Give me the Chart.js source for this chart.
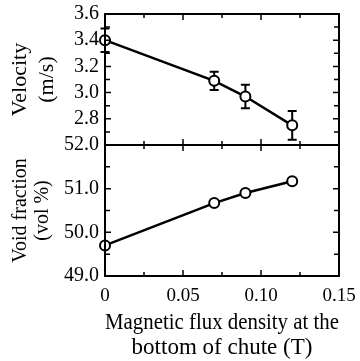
<!DOCTYPE html>
<html>
<head>
<meta charset="utf-8">
<script src="https://cdn.jsdelivr.net/npm/chart.js@4"></script>
<style>
  html, body { margin: 0; padding: 0; background: #fff; }
  #wrap { width: 360px; height: 361px; }
</style>
</head>
<body>
<div id="wrap"><canvas id="chart"></canvas></div>
<script>
// dados
const fluxT = [0, 0.07, 0.09, 0.12];
const velocity = [3.40, 3.09, 2.97, 2.75];
const velocityErr = [0.09, 0.07, 0.09, 0.11];
const voidFraction = [49.7, 50.67, 50.9, 51.17];

const xTicks = [0, 0.05, 0.10, 0.15];
const velTicks = [2.8, 3.0, 3.2, 3.4, 3.6];
const voidTicks = [49.0, 50.0, 51.0, 52.0];

const serif = "'Liberation Serif', 'DejaVu Serif', serif";

function near(v, list) {
  return list.some(t => Math.abs(t - v) < 1e-6);
}

// barras de erro (desenhadas antes dos pontos)
const errorBars = {
  id: 'errorBars',
  beforeDatasetsDraw(chart) {
    const ctx = chart.ctx;
    const x = chart.scales.x, y = chart.scales.yV;
    ctx.save();
    ctx.strokeStyle = '#000';
    ctx.lineWidth = 2;
    fluxT.forEach((f, i) => {
      const px = x.getPixelForValue(f);
      const top = y.getPixelForValue(velocity[i] + velocityErr[i]);
      const bot = y.getPixelForValue(velocity[i] - velocityErr[i]);
      ctx.beginPath();
      ctx.moveTo(px, top); ctx.lineTo(px, bot);
      ctx.moveTo(px - 4.5, top); ctx.lineTo(px + 4.5, top);
      ctx.moveTo(px - 4.5, bot); ctx.lineTo(px + 4.5, bot);
      ctx.stroke();
    });
    ctx.restore();
  }
};

// moldura + ticks para dentro
const frame = {
  id: 'frame',
  afterDraw(chart) {
    const ctx = chart.ctx;
    const a = chart.chartArea;
    const x = chart.scales.x, yV = chart.scales.yV, yF = chart.scales.yF;
    const mid = yV.bottom;
    ctx.save();
    ctx.strokeStyle = '#000';
    ctx.lineWidth = 2;
    ctx.strokeRect(a.left, a.top, a.right - a.left, a.bottom - a.top);
    ctx.beginPath();
    ctx.moveTo(a.left, mid); ctx.lineTo(a.right, mid);
    ctx.stroke();

    ctx.lineWidth = 1.5;
    ctx.beginPath();
    [yV, yF].forEach(s => {
      const major = s.id === 'yV' ? velTicks : voidTicks;
      s.ticks.forEach(t => {
        const py = s.getPixelForValue(t.value);
        const len = near(t.value, major) ? 6 : 5;
        ctx.moveTo(a.left, py); ctx.lineTo(a.left + len, py);
        ctx.moveTo(a.right, py); ctx.lineTo(a.right - len, py);
      });
    });
    x.ticks.forEach(t => {
      const px = x.getPixelForValue(t.value);
      const len = near(t.value, xTicks) ? 6 : 4;
      ctx.moveTo(px, a.top); ctx.lineTo(px, a.top + len);
      ctx.moveTo(px, mid - len); ctx.lineTo(px, mid + len);
      ctx.moveTo(px, a.bottom); ctx.lineTo(px, a.bottom - len);
    });
    ctx.stroke();
    ctx.restore();
  }
};

const lineStyle = {
  borderColor: '#000',
  borderWidth: 2.5,
  pointRadius: 5,
  pointBorderWidth: 2,
  pointBackgroundColor: '#fff',
  pointBorderColor: '#000',
  tension: 0,
  clip: false
};

// largura/altura fixa dos eixos, sem o padding automático dos rótulos
function fixY(s) {
  s.width = 105;
  s.paddingTop = 0; s.paddingBottom = 0;
}

new Chart(document.getElementById('chart'), {
  type: 'line',
  data: {
    datasets: [
      Object.assign({ label: 'Velocity', yAxisID: 'yV',
        data: fluxT.map((f, i) => ({ x: f, y: velocity[i] })) }, lineStyle),
      Object.assign({ label: 'Void fraction', yAxisID: 'yF',
        data: fluxT.map((f, i) => ({ x: f, y: voidFraction[i] })) }, lineStyle)
    ]
  },
  plugins: [errorBars, frame],
  options: {
    responsive: true,
    maintainAspectRatio: false,
    animation: false,
    layout: { padding: { top: 14, right: 21, left: 0, bottom: 0 } },
    plugins: { legend: { display: false }, tooltip: { enabled: false } },
    scales: {
      x: {
        type: 'linear',
        min: 0, max: 0.15,
        grid: { display: false, drawTicks: false },
        border: { display: false },
        afterFit: s => { s.height = 85; s.paddingLeft = 0; s.paddingRight = 0; },
        afterBuildTicks: s => {
          s.ticks = [0, 1, 2, 3, 4, 5, 6].map(i => ({ value: i * 0.025 }));
        },
        ticks: {
          autoSkip: false, maxRotation: 0, padding: 9, color: '#000',
          font: { family: serif, size: 19 },
          callback: v => near(v, xTicks) ? (v === 0 ? '0' : v.toFixed(2)) : ''
        },
        title: {
          display: true,
          text: ['Magnetic flux density at the', 'bottom of chute (T)'],
          color: '#000',
          font: { family: serif, size: 23, lineHeight: 1.1 },
          padding: { top: 0, bottom: 0 }
        }
      },
      // o primeiro eixo da pilha fica embaixo
      yF: {
        type: 'linear', position: 'left', stack: 'panels', stackWeight: 1,
        min: 49, max: 52,
        grid: { display: false, drawTicks: false },
        border: { display: false },
        afterFit: fixY,
        afterBuildTicks: s => {
          s.ticks = [...Array(7).keys()].map(i => ({ value: 49 + i * 0.5 }));
        },
        ticks: {
          autoSkip: false, padding: 6, color: '#000',
          font: { family: serif, size: 20 },
          callback: v => near(v, voidTicks) ? v.toFixed(1) : ''
        },
        title: {
          display: true, text: ['Void fraction', '(vol %)'], color: '#000',
          font: { family: serif, size: 20, lineHeight: 1.1 },
          padding: { top: 10, bottom: 0 }
        }
      },
      yV: {
        type: 'linear', position: 'left', stack: 'panels', stackWeight: 1,
        min: 2.6, max: 3.6,
        grid: { display: false, drawTicks: false },
        border: { display: false },
        afterFit: fixY,
        afterBuildTicks: s => {
          s.ticks = [...Array(11).keys()].map(i => ({ value: Math.round((2.6 + i * 0.1) * 10) / 10 }));
        },
        ticks: {
          autoSkip: false, padding: 6, color: '#000',
          font: { family: serif, size: 20 },
          callback: v => near(v, velTicks) ? v.toFixed(1) : ''
        },
        title: {
          display: true, text: ['Velocity', '(m/s)'], color: '#000',
          font: { family: serif, size: 22, lineHeight: 1.25 },
          padding: { top: 6, bottom: 0 }
        }
      }
    }
  }
});
</script>
</body>
</html>
